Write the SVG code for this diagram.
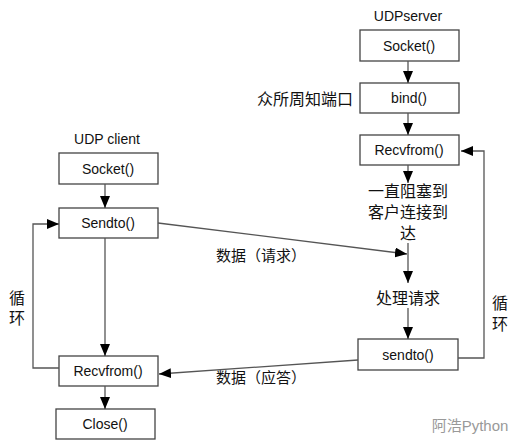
<svg xmlns="http://www.w3.org/2000/svg" width="517" height="443" viewBox="0 0 517 443">
<style>
text{font-family:"Liberation Sans","Noto Sans CJK SC",sans-serif;font-size:14px;fill:#111;text-anchor:middle;dominant-baseline:central}
.zh{font-size:15px}
.zl{font-size:16px}
rect{fill:#fff;stroke:#444;stroke-width:1.3}
.c line,.c polyline{stroke:#555;stroke-width:1.3;fill:none}
</style>
<defs>
<marker id="ah" viewBox="0 0 12 10" refX="12" refY="5" markerWidth="12" markerHeight="10" markerUnits="userSpaceOnUse" orient="auto">
<path d="M0,0 L12,5 L0,10 z" fill="#000"/>
</marker>
</defs>
<rect width="517" height="443" style="fill:#fff;stroke:none"/>

<text x="408" y="16">UDPserver</text>
<text x="107" y="139">UDP client</text>
<text class="zl" x="305" y="99">众所周知端口</text>

<g id="s_socket"><rect x="360" y="30" width="99" height="31"/><text x="409" y="45.5">Socket()</text></g>
<g id="s_bind"><rect x="360" y="83" width="99" height="30"/><text x="409" y="98">bind()</text></g>
<g id="s_recvfrom"><rect x="360" y="135" width="99" height="30"/><text x="409" y="150">Recvfrom()</text></g>
<g id="s_block"><text class="zl" x="408" y="191">一直阻塞到</text><text class="zl" x="408" y="212">客户连接到</text><text class="zl" x="408" y="233">达</text></g>
<g id="s_process"><text class="zl" x="408" y="298">处理请求</text></g>
<g id="s_sendto"><rect x="358" y="339" width="100" height="31"/><text x="408" y="354.5">sendto()</text></g>

<g id="c_socket"><rect x="59" y="153" width="99" height="31"/><text x="108" y="168.5">Socket()</text></g>
<g id="c_sendto"><rect x="59" y="208" width="99" height="30"/><text x="108" y="223">Sendto()</text></g>
<g id="c_recvfrom"><rect x="59" y="356" width="99" height="30"/><text x="108" y="371">Recvfrom()</text></g>
<g id="c_close"><rect x="56" y="409" width="99" height="30"/><text x="105" y="424">Close()</text></g>

<g class="c" id="connectors">
<line x1="408" y1="61" x2="408" y2="83" marker-end="url(#ah)"/>
<line x1="408" y1="113" x2="408" y2="135" marker-end="url(#ah)"/>
<line x1="408" y1="165" x2="408" y2="183" marker-end="url(#ah)"/>
<line x1="408" y1="243" x2="408" y2="283" marker-end="url(#ah)"/>
<line x1="408" y1="308" x2="408" y2="339" marker-end="url(#ah)"/>
<polyline points="458,358 484,358 484,151 461,151" marker-end="url(#ah)"/>
<line x1="105" y1="184" x2="105" y2="208" marker-end="url(#ah)"/>
<line x1="105" y1="238" x2="105" y2="356" marker-end="url(#ah)"/>
<line x1="105" y1="386" x2="105" y2="409" marker-end="url(#ah)"/>
<polyline points="59,368 33,368 33,224 59,224" marker-end="url(#ah)"/>
<line x1="158" y1="223" x2="407" y2="254" marker-end="url(#ah)"/>
<line x1="358" y1="360" x2="159" y2="374" marker-end="url(#ah)"/>
</g>

<text class="zh" x="261" y="255">数据（请求）</text>
<text class="zh" x="261" y="377">数据（应答）</text>
<text class="zl" x="17" y="298">循</text>
<text class="zl" x="17" y="318">环</text>
<text class="zl" x="500" y="303">循</text>
<text class="zl" x="500" y="324">环</text>
<text class="zh" x="470" y="425" style="fill:#999">阿浩Python</text>
</svg>
